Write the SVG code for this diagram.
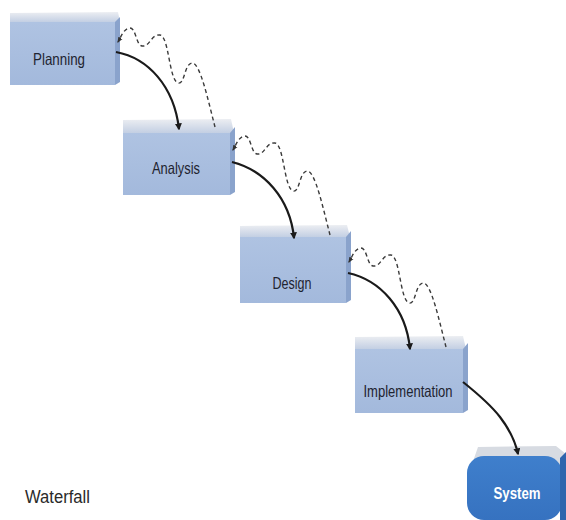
<svg xmlns="http://www.w3.org/2000/svg" width="566" height="520" viewBox="0 0 566 520">
<defs>
<linearGradient id="topg" x1="0" y1="0" x2="0" y2="1">
<stop offset="0" stop-color="#eceef2"/>
<stop offset="1" stop-color="#c3cfe3"/>
</linearGradient>
<linearGradient id="frontg" x1="0" y1="0" x2="0" y2="1">
<stop offset="0" stop-color="#afc3e2"/>
<stop offset="1" stop-color="#a3b9dc"/>
</linearGradient>
<linearGradient id="sysg" x1="0" y1="0" x2="0" y2="1">
<stop offset="0" stop-color="#3f7fcc"/>
<stop offset="1" stop-color="#3672c0"/>
</linearGradient>
<marker id="ahs" viewBox="0 0 10 10" refX="8" refY="5" markerWidth="7" markerHeight="7" orient="auto" markerUnits="userSpaceOnUse">
<path d="M0,0 L10,5 L0,10 z" fill="#1a1a1a"/>
</marker>
<marker id="ahd" viewBox="0 0 10 10" refX="8" refY="5" markerWidth="6" markerHeight="6" orient="auto" markerUnits="userSpaceOnUse">
<path d="M0,1 L10,5 L0,9 z" fill="#333"/>
</marker>
</defs>
<style>
.top{fill:url(#topg)}
.front{fill:url(#frontg)}
.side{fill:#8aa3cc}
.lbl{font-family:"Liberation Sans",Arial,sans-serif;font-size:16.5px;fill:#1f2430;text-anchor:middle}
.sys{font-family:"Liberation Sans",Arial,sans-serif;font-size:17px;font-weight:bold;fill:#ffffff;text-anchor:middle}
.solid{fill:none;stroke:#1a1a1a;stroke-width:2.2}
.dash{fill:none;stroke:#3a3a3a;stroke-width:1.4;stroke-dasharray:4 3}
</style>
<rect width="566" height="520" fill="#ffffff"/>

<g id="planning">
<polygon class="top" points="10,13 118,12 120,22 10,22"/>
<rect class="front" x="10" y="22" width="105" height="63"/>
<polygon class="side" points="115,22 120,17 120,82 115,85"/>
<text class="lbl" x="59" y="65" textLength="52" lengthAdjust="spacingAndGlyphs">Planning</text>
</g>

<g id="analysis">
<polygon class="top" points="123,120 231,119 234,133 123,133"/>
<rect class="front" x="123" y="133" width="107" height="62"/>
<polygon class="side" points="230,133 235,127 235,192 230,195"/>
<text class="lbl" x="176" y="174" textLength="48" lengthAdjust="spacingAndGlyphs">Analysis</text>
</g>

<g id="design">
<polygon class="top" points="240,226 347,225 350,237 240,237"/>
<rect class="front" x="240" y="237" width="106" height="66"/>
<polygon class="side" points="346,237 351,231 351,300 346,303"/>
<text class="lbl" x="292" y="289" textLength="39" lengthAdjust="spacingAndGlyphs">Design</text>
</g>

<g id="implementation">
<polygon class="top" points="355,337 463,336 466,349 355,349"/>
<rect class="front" x="355" y="349" width="108" height="64"/>
<polygon class="side" points="463,349 468,343 468,410 463,413"/>
<text class="lbl" x="408" y="397" textLength="89" lengthAdjust="spacingAndGlyphs">Implementation</text>
</g>

<g id="system">
<path d="M478,447 L556,446 L566,454 L566,470 L470,470 Z" fill="#d7dbe2"/>
<rect x="467" y="456" width="95" height="64" rx="17" ry="17" fill="url(#sysg)"/>
<path d="M560,458 L566,452 L566,520 L560,520 Z" fill="#2f65ad"/>
<text class="sys" x="517" y="499" textLength="47" lengthAdjust="spacingAndGlyphs">System</text>
</g>

<g id="connectors">
<path class="dash" marker-end="url(#ahd)" d="M215,127 C208,100 200,62 192,63 C184,64 185,85 178,83 C169,80 169,36 160,35 C151,34 150,47 142,46 C136,45 136,28 130,28 C124,28 121,37 118,42"/>
<path class="dash" marker-end="url(#ahd)" transform="translate(115,108)" d="M215,127 C208,100 200,62 192,63 C184,64 185,85 178,83 C169,80 169,36 160,35 C151,34 150,47 142,46 C136,45 136,28 130,28 C124,28 121,37 118,42"/>
<path class="dash" marker-end="url(#ahd)" transform="translate(231,220)" d="M215,127 C208,100 200,62 192,63 C184,64 185,85 178,83 C169,80 169,36 160,35 C151,34 150,47 142,46 C136,45 136,28 130,28 C124,28 121,37 118,42"/>

<path class="solid" marker-end="url(#ahs)" d="M116,52 C148,58 174,86 179,129"/>
<path class="solid" marker-end="url(#ahs)" d="M232,162 C264,170 290,198 294,238"/>
<path class="solid" marker-end="url(#ahs)" d="M348,273 C380,280 406,308 410,349"/>
<path class="solid" marker-end="url(#ahs)" d="M463,382 C478,394 490,404 500,417 C510,430 515,440 518,454"/>
</g>

<text x="25" y="503" font-family="Liberation Sans, Arial, sans-serif" font-size="17.5" fill="#2a2a2a" textLength="65" lengthAdjust="spacingAndGlyphs">Waterfall</text>
</svg>
